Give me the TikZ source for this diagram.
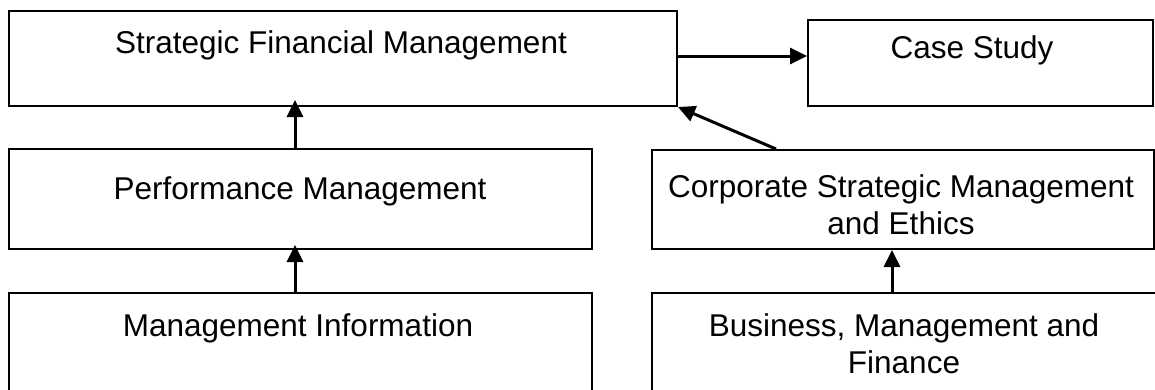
\documentclass[tikz,border=0pt]{standalone}
\usepackage{fontspec}
\setmainfont{Liberation Sans}
\usetikzlibrary{arrows.meta}
\begin{document}
\begin{tikzpicture}[x=1pt,y=-1pt,
  box/.style={draw,line width=2pt,inner sep=0pt,anchor=north west},
  lbl/.style={font=\fontsize{31.5}{37}\selectfont,inner sep=0pt,anchor=base,align=center},
  conn/.style={line width=3pt,-{Triangle[length=17pt,width=16pt]}}]
\useasboundingbox (0,0) rectangle (1155,389);
\clip (0,0) rectangle (1155,389);
% boxes
\node[box,minimum width=668pt,minimum height=95pt] (sfm) at (8,10) {};
\node[box,minimum width=345pt,minimum height=86pt] (case) at (807,19) {};
\node[box,minimum width=583pt,minimum height=100pt] (perf) at (8,148) {};
\node[box,minimum width=502pt,minimum height=99pt] (csme) at (651,149) {};
\node[box,minimum width=583pt,minimum height=120pt] (mi) at (8,292) {};
\node[box,minimum width=520pt,minimum height=120pt] (bmf) at (651,292) {};
% texts
\node[lbl] (sfmT) at (341,53) {Strategic Financial Management};
\node[lbl] (caseT) at (972,58) {Case Study};
\node[lbl] (perfT) at (300,199) {Performance Management};
\node[lbl] (csmeT) at (901,234) {Corporate Strategic Management\\and Ethics};
\node[lbl] (miT) at (298,336) {Management Information};
\node[lbl] (bmfT) at (904,373) {Business, Management and\\Finance};
% connectors
\coordinate (xl) at (295,0);
\coordinate (xr) at (892,0);
\coordinate (yh) at (0,56);
\draw[conn,shorten >=-7pt] (xl |- perf.north) -- (xl |- sfm.south);
\draw[conn,shorten >=-5pt] (xl |- mi.north) -- (xl |- perf.south);
\draw[conn] (xr |- bmf.north) -- (xr |- csme.south);
\draw[conn] (yh -| sfm.east) -- (yh -| case.west);
\draw[conn] ([xshift=-127pt]csme.north) -- (sfm.south east);
\end{tikzpicture}
\end{document}
